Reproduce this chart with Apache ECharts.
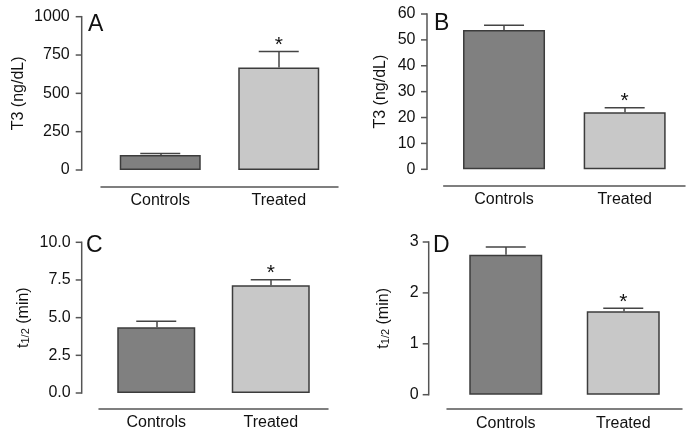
<!DOCTYPE html>
<html>
<head>
<meta charset="utf-8">
<script src="https://cdn.jsdelivr.net/npm/echarts@6/dist/echarts.min.js"></script>
<style>html,body{margin:0;padding:0;background:#fff;}#c{width:694px;height:446px;}</style>
</head>
<body>
<div id="c"></div>
<script>
// ---- data ----
const categories = ["Controls", "Treated"];
const panelLetters = ["A", "B", "C", "D"];
const meanA = [98, 669];
const errTopA = [108, 773];
const meanB = [53.8, 22.0];
const errTopB = [55.7, 23.8];
const meanC = [4.36, 7.15];
const errTopC = [4.76, 7.52];
const meanD = [2.75, 1.64];
const errTopD = [2.90, 1.70];
const significance = ["", "*"];
const yMaxes = [1000, 60, 10, 3];
const yIntervals = [250, 10, 2.5, 1];
const yNames = ["T3 (ng/dL)", "T3 (ng/dL)", "t{sub|1/2} (min)", "t{sub|1/2} (min)"];

const means = [meanA, meanB, meanC, meanD];
const errTops = [errTopA, errTopB, errTopC, errTopD];

// ---- layout (styling only) ----
const FONT = "Liberation Sans, Arial, Helvetica, sans-serif";
const grids = [
  {left: 101, width: 237, top: 16.7, height: 153.3},
  {left: 443.7, width: 241.3, top: 14, height: 155.3},
  {left: 99, width: 229, top: 242.3, height: 150.7},
  {left: 447, width: 235, top: 242, height: 152.7}
];
const yOffsets = [19.3, 16.7, 17.3, 18.3];
const xOffsets = [16.7, 16.7, 15.7, 14.5];
const nameGaps = [55, 38, 50, 37];
const labelMargins = [12, 11.5, 11, 10];
const barWidths = [81, 82, 78, 73];
const letterPos = [[88, 13.5], [434, 12.5], [86, 234.5], [433, 234.5]];
const barColors = ["#808080", "#c8c8c8"];
const AXIS_COLOR = "#555";

const option = {
  animation: false,
  title: panelLetters.map((t, i) => ({
    text: t, left: letterPos[i][0], top: letterPos[i][1], padding: 0,
    textStyle: {fontSize: 23, fontWeight: "normal", color: "#111", fontFamily: FONT}
  })),
  grid: grids,
  xAxis: grids.map((g, i) => ({
    type: "category", gridIndex: i, data: categories, offset: xOffsets[i],
    axisLine: {show: true, onZero: false, lineStyle: {color: AXIS_COLOR, width: 1.5}},
    axisTick: {show: false},
    axisLabel: {fontSize: 16, color: "#111", margin: 6, fontFamily: FONT}
  })),
  yAxis: grids.map((g, i) => {
    const y = {
      type: "value", gridIndex: i, min: 0, max: yMaxes[i], interval: yIntervals[i],
      offset: yOffsets[i],
      name: yNames[i], nameLocation: "middle", nameRotate: 90, nameGap: nameGaps[i],
      nameTextStyle: {fontSize: 16, color: "#111", fontFamily: FONT},
      axisLine: {show: false, onZero: false},
      axisTick: {show: false},
      splitLine: {show: false},
      axisLabel: {fontSize: 16, color: "#111", margin: labelMargins[i], fontFamily: FONT,
        formatter: i === 2 ? (v => v.toFixed(1)) : (v => String(v))}
    };
    if (i >= 2) y.nameTextStyle.rich = {sub: {fontSize: 11, color: "#111", verticalAlign: "bottom", padding: [6, 0, 0, 0], fontFamily: FONT}};
    return y;
  }),
  series: []
};

means.forEach((m, i) => {
  option.series.push({
    type: "bar", xAxisIndex: i, yAxisIndex: i, barWidth: barWidths[i],
    data: m.map((v, k) => ({value: v, itemStyle: {color: barColors[k]}})),
    itemStyle: {borderColor: "#3c3c3c", borderWidth: 1.5},
    markLine: {
      silent: true, animation: false, symbol: ["none", "none"],
      label: {show: false},
      lineStyle: {color: "#444", width: 1.5, type: "solid"},
      data: m.map((v, k) => [{coord: [categories[k], v]}, {coord: [categories[k], errTops[i][k]]}])
    }
  });
  option.series.push({
    type: "scatter", xAxisIndex: i, yAxisIndex: i, silent: true,
    symbol: "rect", symbolSize: [40, 1.5],
    itemStyle: {color: "#444", opacity: 1},
    data: m.map((v, k) => [k, errTops[i][k]]),
    label: {
      show: true, position: "inside", offset: [0, -6],
      formatter: p => significance[p.dataIndex],
      fontSize: 21, color: "#111", fontFamily: FONT
    }
  });
});

const chart = echarts.init(document.getElementById("c"));
chart.setOption(option);

// y-axis lines and ticks, placed through the library's own y scales
const axisEls = [];
grids.forEach((g, i) => {
  const x = g.left - yOffsets[i];
  const y0 = chart.convertToPixel({yAxisIndex: i}, 0);
  const y1 = chart.convertToPixel({yAxisIndex: i}, yMaxes[i]);
  axisEls.push({type: "line", silent: true, z: 100,
    shape: {x1: x, y1: y0 + 0.75, x2: x, y2: y1 - 0.75},
    style: {stroke: AXIS_COLOR, lineWidth: 1.5}});
  const n = Math.round(yMaxes[i] / yIntervals[i]);
  for (let t = 0; t <= n; t++) {
    const yy = chart.convertToPixel({yAxisIndex: i}, t * yIntervals[i]);
    axisEls.push({type: "line", silent: true, z: 100,
      shape: {x1: x - 6, y1: yy, x2: x, y2: yy},
      style: {stroke: AXIS_COLOR, lineWidth: 1.5}});
  }
});
chart.setOption({graphic: axisEls});
</script>
</body>
</html>
